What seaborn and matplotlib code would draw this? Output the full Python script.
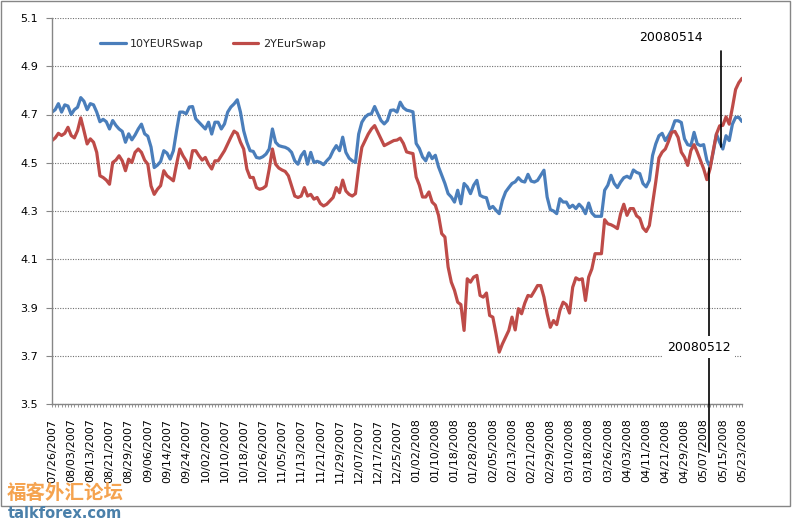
import numpy as np
import pandas as pd
import matplotlib
matplotlib.use("Agg")
import matplotlib.pyplot as plt
import seaborn as sns
from matplotlib.patches import Rectangle

# ---------------- data ----------------
dates = pd.bdate_range("2007-07-26", "2008-05-23")

swap10 = [
    4.71, 4.72, 4.745, 4.71, 4.74, 4.735, 4.70, 4.72, 4.73, 4.77,
    4.755, 4.72, 4.745, 4.74, 4.71, 4.67, 4.68, 4.67, 4.64, 4.675,
    4.655, 4.64, 4.63, 4.585, 4.62, 4.595, 4.615, 4.64, 4.66, 4.62,
    4.61, 4.565, 4.48, 4.49, 4.505, 4.55, 4.54, 4.515, 4.55, 4.633,
    4.71, 4.71, 4.703, 4.731, 4.733, 4.682, 4.668, 4.654, 4.640, 4.668,
    4.619, 4.668, 4.668, 4.640, 4.661, 4.710, 4.731, 4.744, 4.761, 4.710,
    4.633, 4.585, 4.550, 4.547, 4.522, 4.519, 4.525, 4.536, 4.557, 4.640,
    4.585, 4.571, 4.567, 4.564, 4.557, 4.543, 4.508, 4.494, 4.529, 4.547,
    4.494, 4.543, 4.501, 4.506, 4.501, 4.492, 4.508, 4.522, 4.550, 4.571,
    4.550, 4.606, 4.543, 4.519, 4.508, 4.501, 4.619, 4.668, 4.689, 4.700,
    4.703, 4.733, 4.703, 4.675, 4.661, 4.675, 4.717, 4.719, 4.710, 4.751,
    4.728, 4.718, 4.715, 4.711, 4.580, 4.559, 4.524, 4.508, 4.541, 4.517,
    4.531, 4.483, 4.448, 4.414, 4.372, 4.358, 4.337, 4.386, 4.330, 4.414,
    4.400, 4.372, 4.407, 4.427, 4.365, 4.358, 4.355, 4.310, 4.319, 4.303,
    4.289, 4.344, 4.379, 4.397, 4.414, 4.421, 4.438, 4.424, 4.420, 4.452,
    4.424, 4.420, 4.427, 4.448, 4.469, 4.358, 4.306, 4.300, 4.289, 4.351,
    4.337, 4.337, 4.314, 4.324, 4.310, 4.328, 4.314, 4.289, 4.333, 4.292,
    4.278, 4.278, 4.278, 4.386, 4.407, 4.448, 4.414, 4.397, 4.420, 4.438,
    4.444, 4.436, 4.470, 4.460, 4.455, 4.414, 4.400, 4.427, 4.530, 4.578,
    4.612, 4.622, 4.592, 4.612, 4.636, 4.674, 4.674, 4.667, 4.599, 4.575,
    4.571, 4.626, 4.578, 4.571, 4.575, 4.510, 4.482, 4.544, 4.619, 4.585,
    4.557, 4.612, 4.592, 4.660, 4.688, 4.688, 4.671,
]

swap2 = [
    4.592, 4.603, 4.622, 4.613, 4.622, 4.647, 4.613, 4.603, 4.633, 4.686,
    4.633, 4.578, 4.599, 4.585, 4.543, 4.446, 4.439, 4.428, 4.411, 4.501,
    4.511, 4.529, 4.508, 4.467, 4.515, 4.501, 4.543, 4.557, 4.543, 4.511,
    4.494, 4.404, 4.369, 4.390, 4.405, 4.467, 4.446, 4.436, 4.425, 4.494,
    4.557, 4.529, 4.508, 4.478, 4.550, 4.550, 4.529, 4.511, 4.522, 4.494,
    4.474, 4.508, 4.508, 4.529, 4.550, 4.578, 4.606, 4.631, 4.622, 4.585,
    4.557, 4.474, 4.439, 4.439, 4.397, 4.390, 4.394, 4.404, 4.474, 4.557,
    4.494, 4.478, 4.470, 4.464, 4.446, 4.404, 4.362, 4.356, 4.362, 4.397,
    4.362, 4.369, 4.349, 4.356, 4.331, 4.321, 4.328, 4.342, 4.356, 4.397,
    4.376, 4.428, 4.383, 4.369, 4.362, 4.372, 4.480, 4.564, 4.592, 4.619,
    4.640, 4.654, 4.626, 4.599, 4.571, 4.578, 4.585, 4.592, 4.594, 4.602,
    4.580, 4.545, 4.541, 4.538, 4.441, 4.407, 4.358, 4.358, 4.379, 4.337,
    4.324, 4.282, 4.206, 4.192, 4.068, 4.005, 3.971, 3.922, 3.912, 3.805,
    4.019, 4.005, 4.026, 4.033, 3.950, 3.943, 3.960, 3.867, 3.860, 3.791,
    3.715, 3.749, 3.777, 3.805, 3.860, 3.807, 3.895, 3.874, 3.918, 3.950,
    3.946, 3.968, 3.991, 3.991, 3.943, 3.874, 3.818, 3.846, 3.829, 3.888,
    3.922, 3.912, 3.877, 3.984, 4.023, 4.015, 4.019, 3.929, 4.026, 4.060,
    4.123, 4.123, 4.123, 4.264, 4.247, 4.243, 4.236, 4.227, 4.289, 4.328,
    4.282, 4.310, 4.310, 4.280, 4.270, 4.230, 4.215, 4.240, 4.330, 4.420,
    4.520, 4.544, 4.557, 4.589, 4.626, 4.630, 4.605, 4.544, 4.523, 4.489,
    4.551, 4.575, 4.544, 4.510, 4.475, 4.430, 4.475, 4.551, 4.619, 4.653,
    4.655, 4.690, 4.660, 4.729, 4.804, 4.832, 4.850,
]

series_names = ["10YEURSwap", "2YEurSwap"]
colors = ["#4a7ebb", "#be4b48"]
y_ticks = [3.5, 3.7, 3.9, 4.1, 4.3, 4.5, 4.7, 4.9, 5.1]
label_step = 6

# annotations: (text, line x position in index units, line y range, text position)
ann_14 = {"text": "20080514", "x": 209.4, "y": (4.565, 4.963), "tx": 193.6, "ty": 5.021}
ann_12 = {"text": "20080512", "x": 205.8, "y": (3.30, 4.478), "tx": 202.6, "ty": 3.736}

# ---------------- figure ----------------
n = len(dates)
df = pd.DataFrame({"idx": np.arange(n), series_names[0]: swap10, series_names[1]: swap2})
long = df.melt(id_vars="idx", var_name="series", value_name="rate")

sns.set_style("white")
plt.rcParams["font.family"] = ["DejaVu Sans"]

W, H = 792, 525
fig = plt.figure(figsize=(W / 100, H / 100), dpi=100)
ax = fig.add_axes([52 / W, 1 - 404 / H, 690 / W, 386 / H])

sns.lineplot(data=long, x="idx", y="rate", hue="series", hue_order=series_names,
             palette=colors, linewidth=2.3, ax=ax)

ax.set_xlim(0, n - 1)
ax.set_ylim(3.5, 5.1)
ax.set_xlabel("")
ax.set_ylabel("")

ax.set_yticks(y_ticks)
ax.set_yticklabels([f"{v:.1f}" for v in y_ticks])
ax.set_xticks(np.arange(n))
ax.set_xticklabels([d.strftime("%m/%d/%Y") if i % label_step == 0 else ""
                    for i, d in enumerate(dates)], rotation=90)

ax.yaxis.grid(True, linestyle=(0, (1, 1.3)), color="#707070", linewidth=0.8)
ax.xaxis.grid(False)
ax.set_axisbelow(True)

for s in ["top", "right"]:
    ax.spines[s].set_visible(False)
for s in ["left", "bottom"]:
    ax.spines[s].set_color("#868686")
    ax.spines[s].set_linewidth(1.0)

ax.tick_params(axis="y", left=True, direction="out", length=4, width=0.8,
               color="#868686", labelsize=8, pad=6, labelcolor="black")
ax.tick_params(axis="x", bottom=True, direction="out", length=2.5, width=0.6,
               color="#868686", labelsize=8, pad=8, labelcolor="black")

handles, labels = ax.get_legend_handles_labels()
ax.legend(handles, labels, ncol=2, frameon=False, loc="center left",
          bbox_to_anchor=(0.0696, 0.933), borderaxespad=0, borderpad=0,
          handlelength=2.3, handletextpad=0.4, columnspacing=2.6, fontsize=8)

# annotations
for a in (ann_14, ann_12):
    ax.plot([a["x"], a["x"]], list(a["y"]), color="black", linewidth=1.2,
            clip_on=False, zorder=5)
ax.text(ann_14["tx"], ann_14["ty"], ann_14["text"], ha="center", va="center",
        fontsize=9, color="black", zorder=6)
ax.text(ann_12["tx"], ann_12["ty"], ann_12["text"], ha="center", va="center",
        fontsize=9, color="black", zorder=6,
        bbox=dict(facecolor="white", edgecolor="none", pad=3))

# chart-area border
fig.patches.append(Rectangle((1 / W, 1 - 506 / H), 789 / W, 505 / H,
                             transform=fig.transFigure, fill=False,
                             edgecolor="#868686", linewidth=1.0))

# watermark
fig.text(7 / W, 1 - 493 / H, "福客外汇论坛", fontsize=14, fontweight="bold",
         color="#f5a34f", family=["Noto Sans CJK SC", "DejaVu Sans"],
         ha="left", va="center")
fig.text(8 / W, 1 - 513 / H, "talkforex.com", fontsize=10.5, fontweight="bold",
         color="#4a80aa", ha="left", va="center")

fig.savefig("out.png", dpi=100)
